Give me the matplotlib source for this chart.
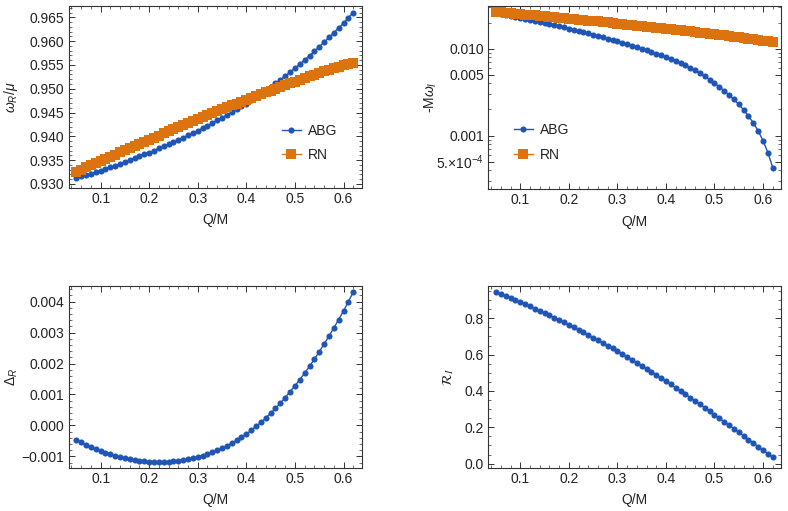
import matplotlib
matplotlib.use('Agg')
import matplotlib.pyplot as plt
from matplotlib.ticker import FixedLocator, FixedFormatter, MultipleLocator, NullFormatter

# ---------------- data ----------------
Q = [0.05, 0.06, 0.07, 0.08, 0.09, 0.10, 0.11, 0.12, 0.13, 0.14,
     0.15, 0.16, 0.17, 0.18, 0.19, 0.20, 0.21, 0.22, 0.23, 0.24,
     0.25, 0.26, 0.27, 0.28, 0.29, 0.30, 0.31, 0.32, 0.33, 0.34,
     0.35, 0.36, 0.37, 0.38, 0.39, 0.40, 0.41, 0.42, 0.43, 0.44,
     0.45, 0.46, 0.47, 0.48, 0.49, 0.50, 0.51, 0.52, 0.53, 0.54,
     0.55, 0.56, 0.57, 0.58, 0.59, 0.60, 0.61, 0.62]

abg_wR = [0.93130, 0.93158, 0.93187, 0.93217, 0.93248, 0.93280, 0.93314, 0.93349, 0.93384, 0.93421,
          0.93460, 0.93499, 0.93539, 0.93580, 0.93620, 0.93660, 0.93703, 0.93746, 0.93790, 0.93835,
          0.93880, 0.93927, 0.93974, 0.94022, 0.94070, 0.94120, 0.94172, 0.94225, 0.94279, 0.94334,
          0.94390, 0.94449, 0.94508, 0.94569, 0.94630, 0.94690, 0.94757, 0.94826, 0.94896, 0.94968,
          0.95040, 0.95115, 0.95191, 0.95269, 0.95349, 0.95430, 0.95516, 0.95604, 0.95693, 0.95786,
          0.95880, 0.95977, 0.96076, 0.96177, 0.96279, 0.96380, 0.96490, 0.96600]

rn_wR = [0.93260, 0.93304, 0.93348, 0.93392, 0.93436, 0.93480, 0.93526, 0.93572, 0.93618, 0.93664,
         0.93710, 0.93754, 0.93798, 0.93842, 0.93886, 0.93930, 0.93974, 0.94018, 0.94062, 0.94106,
         0.94150, 0.94192, 0.94234, 0.94276, 0.94318, 0.94360, 0.94402, 0.94444, 0.94486, 0.94528,
         0.94570, 0.94610, 0.94650, 0.94690, 0.94730, 0.94770, 0.94808, 0.94846, 0.94884, 0.94922,
         0.94960, 0.94998, 0.95036, 0.95074, 0.95112, 0.95150, 0.95186, 0.95222, 0.95258, 0.95294,
         0.95330, 0.95362, 0.95394, 0.95426, 0.95458, 0.95490, 0.95520, 0.95550]

abg_mwI = [0.02560, 0.02498, 0.02437, 0.02377, 0.02318, 0.02260, 0.02203, 0.02146, 0.02090, 0.02035,
           0.01980, 0.01925, 0.01870, 0.01816, 0.01763, 0.01710, 0.01659, 0.01608, 0.01558, 0.01509,
           0.01460, 0.01411, 0.01362, 0.01314, 0.01267, 0.01220, 0.01175, 0.01130, 0.01086, 0.01043,
           0.01000, 0.00959, 0.00918, 0.00878, 0.00839, 0.00800, 0.00763, 0.00725, 0.00686, 0.00645,
           0.00604, 0.00563, 0.00522, 0.00481, 0.00441, 0.00402, 0.00364, 0.00328, 0.00294, 0.00261,
           0.00229, 0.00198, 0.00168, 0.00140, 0.00113, 0.000873, 0.000637, 0.000427]

rn_mwI = [0.02671, 0.02640, 0.02609, 0.02579, 0.02548, 0.02518, 0.02488, 0.02458, 0.02430, 0.02402,
          0.02374, 0.02344, 0.02315, 0.02287, 0.02258, 0.02230, 0.02202, 0.02174, 0.02147, 0.02121,
          0.02095, 0.02068, 0.02041, 0.02014, 0.01987, 0.01960, 0.01934, 0.01908, 0.01883, 0.01858,
          0.01834, 0.01809, 0.01784, 0.01759, 0.01734, 0.01710, 0.01685, 0.01660, 0.01636, 0.01612,
          0.01589, 0.01565, 0.01541, 0.01518, 0.01495, 0.01472, 0.01449, 0.01426, 0.01403, 0.01381,
          0.01359, 0.01336, 0.01313, 0.01290, 0.01267, 0.01245, 0.01223, 0.01202]

delta_R = [-0.000470, -0.000550, -0.000630, -0.000700, -0.000770, -0.000830, -0.000885, -0.000935, -0.000980, -0.001020,
           -0.001060, -0.001090, -0.001115, -0.001135, -0.001155, -0.001170, -0.001178, -0.001182, -0.001180, -0.001172,
           -0.001160, -0.001140, -0.001115, -0.001087, -0.001055, -0.001020, -0.000975, -0.000925, -0.000865, -0.000805,
           -0.000740, -0.000660, -0.000575, -0.000480, -0.000380, -0.000280, -0.000160, -0.000030, 0.000100, 0.000240,
           0.000390, 0.000550, 0.000720, 0.000900, 0.001090, 0.001280, 0.001480, 0.001690, 0.001910, 0.002140,
           0.002380, 0.002630, 0.002880, 0.003150, 0.003420, 0.003700, 0.004000, 0.004310]

R_I = [0.945, 0.934, 0.923, 0.912, 0.9005, 0.889, 0.877, 0.865, 0.853, 0.841,
       0.829, 0.816, 0.803, 0.790, 0.777, 0.764, 0.750, 0.736, 0.722, 0.708,
       0.694, 0.679, 0.664, 0.649, 0.634, 0.619, 0.603, 0.587, 0.571, 0.555,
       0.539, 0.522, 0.505, 0.488, 0.471, 0.454, 0.436, 0.418, 0.400, 0.382,
       0.364, 0.345, 0.326, 0.308, 0.289, 0.270, 0.251, 0.231, 0.212, 0.192,
       0.173, 0.153, 0.133, 0.114, 0.094, 0.074, 0.055, 0.036]

x_ticks = [0.1, 0.2, 0.3, 0.4, 0.5, 0.6]
x_ticklabels = ['0.1', '0.2', '0.3', '0.4', '0.5', '0.6']
tl_yticks = [0.930, 0.935, 0.940, 0.945, 0.950, 0.955, 0.960, 0.965]
tl_yticklabels = ['0.930', '0.935', '0.940', '0.945', '0.950', '0.955', '0.960', '0.965']
tr_yticks = [5e-4, 1e-3, 5e-3, 1e-2]
tr_yticklabels = ['5.$\\times$10$^{-4}$', '0.001', '0.005', '0.010']
bl_yticks = [-0.001, 0.0, 0.001, 0.002, 0.003, 0.004]
bl_yticklabels = ['\u22120.001', '0.000', '0.001', '0.002', '0.003', '0.004']
br_yticks = [0.0, 0.2, 0.4, 0.6, 0.8]
br_yticklabels = ['0.0', '0.2', '0.4', '0.6', '0.8']

# ---------------- style ----------------
plt.rcParams['font.family'] = ['Liberation Sans', 'DejaVu Sans']
plt.rcParams['font.size'] = 10
plt.rcParams['mathtext.fontset'] = 'custom'
plt.rcParams['mathtext.rm'] = 'Liberation Sans'
plt.rcParams['mathtext.it'] = 'Liberation Sans:italic'
plt.rcParams['mathtext.bf'] = 'Liberation Sans:bold'

BLUE = '#1f55b5'
ORANGE = '#dc730f'
FRAME = '#333333'
TXT = '#222222'

W, H = 788, 511
fig = plt.figure(figsize=(W / 100, H / 100), dpi=100)


def px_axes(l, r, t, b):
    return fig.add_axes([l / W, 1 - b / H, (r - l) / W, (b - t) / H])


axTL = px_axes(68.5, 361.5, 6, 188)
axTR = px_axes(488.3, 781, 6, 189)
axBL = px_axes(68.5, 361.5, 286, 468)
axBR = px_axes(488.3, 781, 286, 468)


def style(ax):
    for s in ax.spines.values():
        s.set_color(FRAME)
        s.set_linewidth(0.8)
    ax.tick_params(which='both', direction='in', top=True, right=True,
                   colors=FRAME, labelcolor=TXT, labelsize=10)
    ax.tick_params(which='major', length=4, width=0.7, pad=3)
    ax.tick_params(which='minor', length=2, width=0.5)
    ax.xaxis.set_major_locator(FixedLocator(x_ticks))
    ax.xaxis.set_major_formatter(FixedFormatter(x_ticklabels))
    ax.xaxis.set_minor_locator(MultipleLocator(0.02))
    ax.set_xlim(0.034, 0.637)
    ax.set_xlabel('Q/M', color=TXT, fontsize=10)
    ax.xaxis.set_label_coords(0.5, -0.14)


def plot_abg(ax, y):
    return ax.plot(Q, y, '-o', color=BLUE, ms=4.4, mew=0, lw=1.0, label='ABG')


def plot_rn(ax, y):
    return ax.plot(Q, y, '-s', color=ORANGE, ms=6.8, mew=0, lw=1.0, label='RN')


# top-left
style(axTL)
plot_abg(axTL, abg_wR)
plot_rn(axTL, rn_wR)
axTL.set_ylim(0.92916, 0.96737)
axTL.yaxis.set_major_locator(FixedLocator(tl_yticks))
axTL.yaxis.set_major_formatter(FixedFormatter(tl_yticklabels))
axTL.yaxis.set_minor_locator(MultipleLocator(0.001))
axTL.set_ylabel(r'$\omega_R/\mu$', color=TXT, fontsize=10)
axTL.yaxis.set_label_coords(-0.165, 0.5)
axTL.legend(loc='center left', bbox_to_anchor=(0.728, 0.248), frameon=False,
            handlelength=1.35, handletextpad=0.5, labelspacing=0.75,
            borderpad=0, borderaxespad=0, fontsize=10, labelcolor=TXT)

# top-right
style(axTR)
plot_abg(axTR, abg_mwI)
plot_rn(axTR, rn_mwI)
axTR.set_yscale('log')
axTR.set_ylim(2.42e-4, 0.0312)
axTR.yaxis.set_major_locator(FixedLocator(tr_yticks))
axTR.yaxis.set_major_formatter(FixedFormatter(tr_yticklabels))
axTR.yaxis.set_minor_locator(FixedLocator([3e-4, 4e-4, 6e-4, 7e-4, 8e-4, 9e-4,
                                           2e-3, 3e-3, 4e-3, 6e-3, 7e-3, 8e-3, 9e-3,
                                           2e-2, 3e-2]))
axTR.yaxis.set_minor_formatter(NullFormatter())
axTR.set_ylabel(r'-M$\omega_I$', color=TXT, fontsize=10)
axTR.yaxis.set_label_coords(-0.17, 0.5)
axTR.legend(loc='center left', bbox_to_anchor=(0.088, 0.254), frameon=False,
            handlelength=1.35, handletextpad=0.5, labelspacing=0.75,
            borderpad=0, borderaxespad=0, fontsize=10, labelcolor=TXT)

# bottom-left
style(axBL)
plot_abg(axBL, delta_R)
axBL.set_ylim(-0.001376, 0.004505)
axBL.yaxis.set_major_locator(FixedLocator(bl_yticks))
axBL.yaxis.set_major_formatter(FixedFormatter(bl_yticklabels))
axBL.yaxis.set_minor_locator(MultipleLocator(0.0002))
axBL.set_ylabel(r'$\Delta_R$', color=TXT, fontsize=10)
axBL.yaxis.set_label_coords(-0.165, 0.5)

# bottom-right
style(axBR)
plot_abg(axBR, R_I)
axBR.set_ylim(-0.0238, 0.9776)
axBR.yaxis.set_major_locator(FixedLocator(br_yticks))
axBR.yaxis.set_major_formatter(FixedFormatter(br_yticklabels))
axBR.yaxis.set_minor_locator(MultipleLocator(0.05))
axBR.set_ylabel(r'$\mathcal{R}_I$', color=TXT, fontsize=10, math_fontfamily='stix')
axBR.yaxis.set_label_coords(-0.11, 0.5)

fig.savefig('out.png', dpi=100)
